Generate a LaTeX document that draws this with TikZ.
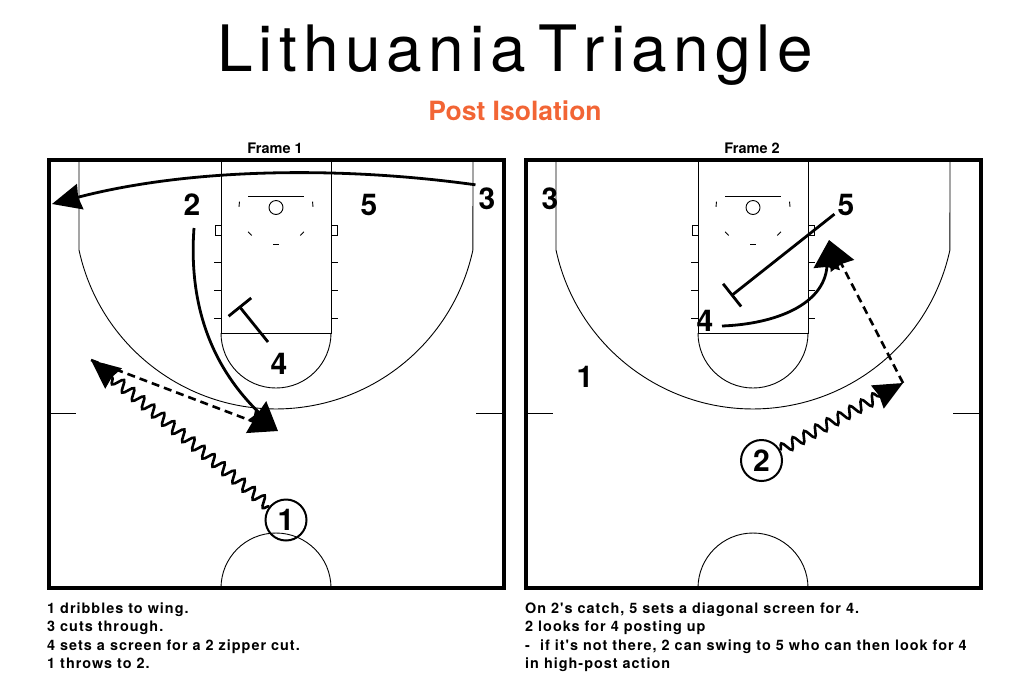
\documentclass[tikz,border=0pt]{standalone}
\usepackage{fontspec}
\setmainfont{TeX Gyre Heros}
\newfontfamily\titlefont[LetterSpace=9.7, Kerning=Off, WordSpace=0.5]{TeX Gyre Heros}
\newfontfamily\notefont[LetterSpace=7]{TeX Gyre Heros}
\usetikzlibrary{positioning, arrows.meta, bending, decorations.pathmorphing}
\definecolor{subtitleorange}{HTML}{F26535}

\begin{document}
\begin{tikzpicture}[x=1pt, y=-1pt]
    \tikzset{
        court/.pic={
                \draw[line width=4pt] (-227.5, 0) rectangle (228, 428);
                \draw[thin line] (-55, 0) -- (-55, 173) -- (55, 173) -- (55, 0);
                \draw[thin line] (-55, 173) arc (180:0:55);
                \draw[thin line] (-197, 0) -- (-197, 90) arc (167.8:12.2:201.5) -- (197, 0);
                \draw[thin line] (-227.5, 253) -- (-200, 253);
                \draw[thin line] (200, 253) -- (228, 253);
                \draw[thin line] (-55, 428) arc (180:360:55);
                \draw[thin line] (-28, 36) -- (28, 36);
                \draw[thin line] (0, 47.5) circle (7);
                % Restricted area ticks
                \foreach \a in {-5, 45, 90, 135, 185} {
                        \draw[thin line] ({37*cos(\a-4)}, {47.5+37*sin(\a-4)}) arc (\a-4:\a+4:37);
                    }
                % Lane marks on both sides
                \foreach \s in {-1, 1} {
                        \draw[thin line] (\s*55, 65) -- (\s*61, 65) -- (\s*61, 75) -- (\s*55, 75);
                        \foreach \y in {102, 130, 158} {
                                \draw[thin line] (\s*55, \y) -- (\s*62, \y);
                            }
                    }
            },
        thin line/.style={line width=0.9pt},
        player/.style={font=\fontsize{30}{30}\selectfont\bfseries, inner sep=3pt},
        ball player/.style={player, circle, draw, line width=2pt, inner sep=0pt, minimum size=41pt},
        frame label/.style={font=\fontsize{14.5}{14.5}\selectfont\bfseries},
        notes/.style={font=\fontsize{14.4}{18.3}\selectfont\notefont\bfseries, align=left, anchor=north west, inner sep=0pt},
        cut/.style={line width=2.8pt, -{Stealth[length=29pt, width=26pt, inset=2pt, quick]}},
        pass/.style={line width=2.6pt, dash pattern=on 8pt off 5pt, -{Stealth[length=29pt, width=26pt, inset=2pt]}},
        dribble/.style={line width=2.6pt, decorate, decoration={snake, segment length=13pt, amplitude=5.5pt, post length=25pt},
                -{Stealth[length=29pt, width=26pt, inset=2pt]}},
        screen/.style={line width=2.8pt, -{Bar[width=29pt, line width=2.8pt]}}
    }

    \useasboundingbox (0, 0) rectangle (1016, 697);

    \node[font=\fontsize{64}{64}\selectfont\titlefont, anchor=base] (title) at (515, 71.7) {Lithuania Triangle};
    \node[font=\fontsize{26.5}{26.5}\selectfont\bfseries, text=subtitleorange] (subtitle) at (515, 111) {Post Isolation};
    \node[frame label] (frameone) at (275, 148) {Frame 1};
    \node[frame label] (frametwo) at (752, 148) {Frame 2};

    \pic at (276, 160) {court};
    \pic at (753, 160) {court};

    % --- Frame 1 ---
    \node[player] (twoA) at (192, 205) {2};
    \node[player] (fiveA) at (369, 205) {5};
    \node[player] (threeA) at (487, 199) {3};
    \node[player] (fourA) at (279, 364) {4};
    \node[ball player] (oneA) at (286, 520) {1};

    \coordinate (wingA) at (91, 360);
    \coordinate (catchA) at (278, 431);
    \coordinate (cornerA) at (52, 204);
    \coordinate (setA) at (239, 306);

    \draw[cut] (threeA.north west) .. controls (340, 166) and (190, 168) .. (cornerA);
    \draw[cut] ([shift={(2, 23)}]twoA.center) .. controls (188, 310) and (215, 370) .. (catchA);
    \draw[dribble] (oneA) -- (wingA);
    \draw[pass] (wingA) -- (catchA);
    \draw[screen] ([shift={(-11, -22)}]fourA.center) -- (setA);

    % --- Frame 2 ---
    \node[player] (threeB) at (550, 199) {3};
    \node[player] (fiveB) at (846, 205) {5};
    \node[player] (fourB) at (705, 321) {4};
    \node[player] (oneB) at (585, 377) {1};
    \node[ball player] (twoB) at (761.5, 460.5) {2};

    \coordinate (wingB) at (903, 383);
    \coordinate (postB) at (829, 240);
    \coordinate (setB) at (731, 296);

    \draw[dribble] (twoB) -- (wingB);
    \draw[pass] (wingB) -- (postB);
    \draw[cut] ([shift={(17, 5)}]fourB.center) .. controls (775, 324) and (824, 305) .. (postB);
    \draw[screen] (fiveB) -- (setB);

    \node[notes] (notesone) at (47, 602.5) {1 dribbles to wing.\\3 cuts through.\\4 sets a screen for a 2 zipper cut.\\1 throws to 2.};
    \node[notes] (notestwo) at (525, 602.5) {On 2's catch, 5 sets a diagonal screen for 4.\\2 looks for 4 posting up\\-\ \ if it's not there, 2 can swing to 5 who can then look for 4\\in high-post action};
\end{tikzpicture}
\end{document}
